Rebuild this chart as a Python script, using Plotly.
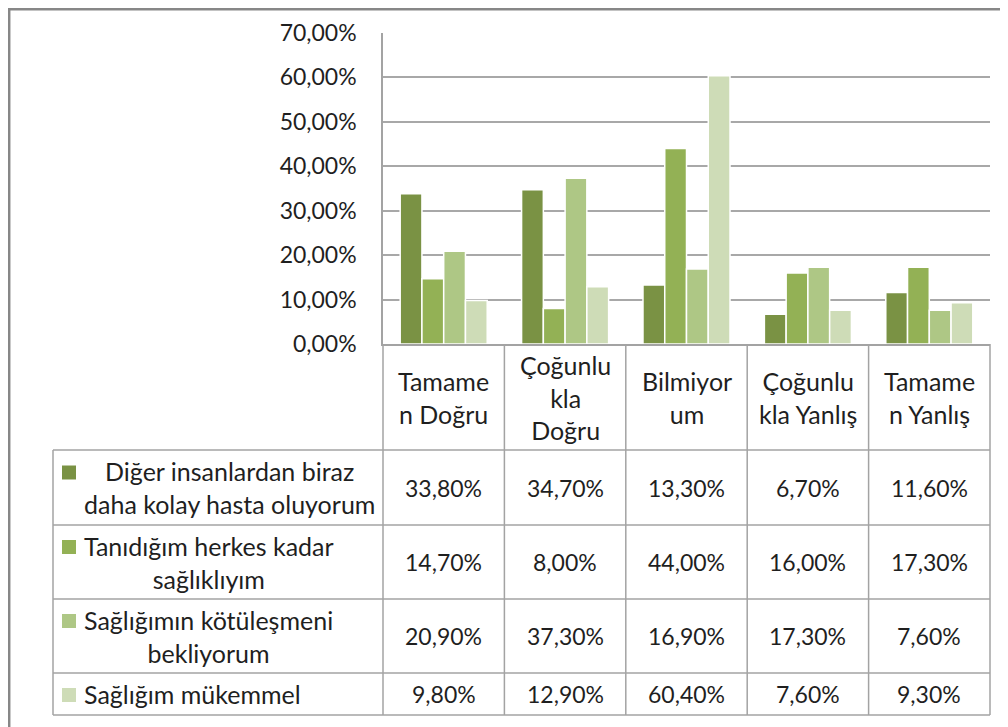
import plotly.graph_objects as go

# ---- data ----
categories = ["Tamamen Doğru", "Çoğunlukla Doğru", "Bilmiyorum", "Çoğunlukla Yanlış", "Tamamen Yanlış"]
category_labels = ["Tamame<br>n Doğru", "Çoğunlu<br>kla<br>Doğru", "Bilmiyor<br>um",
                   "Çoğunlu<br>kla Yanlış", "Tamame<br>n Yanlış"]
series_names = ["Diğer insanlardan biraz daha kolay hasta oluyorum",
                "Tanıdığım herkes kadar sağlıklıyım",
                "Sağlığımın kötüleşmeni bekliyorum",
                "Sağlığım mükemmel"]
series_labels = ["Diğer insanlardan biraz<br>daha kolay hasta oluyorum",
                 "Tanıdığım herkes kadar<br>sağlıklıyım",
                 "Sağlığımın kötüleşmeni<br>bekliyorum",
                 "Sağlığım mükemmel"]
s1 = [33.8, 34.7, 13.3, 6.7, 11.6]
s2 = [14.7, 8.0, 44.0, 16.0, 17.3]
s3 = [20.9, 37.3, 16.9, 17.3, 7.6]
s4 = [9.8, 12.9, 60.4, 7.6, 9.3]
series_values = [s1, s2, s3, s4]
colors = ["#7A9244", "#93B155", "#AEC785", "#CEDCB7"]
y_ticks = [0, 10, 20, 30, 40, 50, 60, 70]

# ---- layout constants (page pixels) ----
W, H = 1008, 727
OFF = 8                                       # page body margin around the figure
PL, PR, PT, PB = 383, 990, 33, 344            # plot area
ROWS = [344, 450, 525, 599, 673, 715]         # table row boundaries
TLEFT = 53
FONT = "Lato"
TXT = "#1f1f1f"
BORDER = "#a3a3a3"
NUM_SIZE = 23
LAB_SIZE = 25


def fx(x):
    return (x - OFF) / W


def fy(y):
    return 1 - (y - OFF) / H


fig = go.Figure()
for name, vals, col in zip(series_names, series_values, colors):
    fig.add_trace(go.Bar(x=categories, y=[v / 100 for v in vals], name=name,
                         marker=dict(color=col, line=dict(color="white", width=1.5)),
                         showlegend=False))

shapes = []
annotations = []
ncat = len(categories)
colw = (PR - PL) / ncat
for i in range(ncat + 1):
    x = PL + i * colw
    shapes.append(dict(type="line", xref="paper", yref="paper", x0=fx(x), x1=fx(x), y0=fy(ROWS[0]), y1=fy(ROWS[-1]),
                       line=dict(color=BORDER, width=1.5)))
shapes.append(dict(type="line", xref="paper", yref="paper", x0=fx(TLEFT), x1=fx(TLEFT), y0=fy(ROWS[1]), y1=fy(ROWS[-1]),
                   line=dict(color=BORDER, width=1.5)))
for r in ROWS[1:]:
    shapes.append(dict(type="line", xref="paper", yref="paper", x0=fx(TLEFT), x1=fx(PR), y0=fy(r), y1=fy(r),
                       line=dict(color=BORDER, width=1.5)))
for i, lab in enumerate(category_labels):
    cx = PL + (i + 0.5) * colw
    annotations.append(dict(xref="paper", yref="paper", x=fx(cx), y=fy((ROWS[0] + ROWS[1]) / 2), text=lab,
                            showarrow=False, xanchor="center", yanchor="middle", align="center",
                            font=dict(family=FONT, size=LAB_SIZE, color=TXT)))
for j, (lab, vals, col) in enumerate(zip(series_labels, series_values, colors)):
    top, bot = ROWS[j + 1], ROWS[j + 2]
    cy = (top + bot) / 2
    nlines = lab.count("<br>") + 1
    first_line_y = cy - (nlines - 1) * 16
    shapes.append(dict(type="rect", xref="paper", yref="paper", x0=fx(62), x1=fx(76),
                       y0=fy(first_line_y - 6), y1=fy(first_line_y + 8), fillcolor=col, line=dict(width=0)))
    annotations.append(dict(xref="paper", yref="paper", x=fx(82), y=fy(cy), text=lab, showarrow=False,
                            xanchor="left", yanchor="middle", align="center",
                            font=dict(family=FONT, size=LAB_SIZE, color=TXT)))
    for i, v in enumerate(vals):
        cx = PL + (i + 0.5) * colw
        annotations.append(dict(xref="paper", yref="paper", x=fx(cx), y=fy(cy),
                                text=f"{v:.2f}%".replace(".", ","), showarrow=False,
                                xanchor="center", yanchor="middle",
                                font=dict(family=FONT, size=NUM_SIZE, color=TXT)))
# outer frame (left and top edges visible)
shapes.append(dict(type="rect", xref="paper", yref="paper", x0=fx(OFF + 1.2), x1=fx(W + 40), y0=fy(OFF + 1.2),
                   y1=fy(H + 40), line=dict(color="#878787", width=2.5), fillcolor="rgba(0,0,0,0)"))

fig.update_layout(
    width=W, height=H, autosize=False,
    margin=dict(l=0, r=0, t=0, b=0, pad=0, autoexpand=False),
    paper_bgcolor="white", plot_bgcolor="white",
    separators=",.",
    barmode="group", bargap=0.283, bargroupgap=0.0,
    shapes=shapes, annotations=annotations,
    xaxis=dict(domain=[fx(PL), fx(PR)], showticklabels=False, ticks="", showgrid=False, automargin=False,
               showline=True, linecolor=BORDER, linewidth=1.5, zeroline=False),
    yaxis=dict(domain=[fy(PB), fy(PT)], range=[0, 0.7], tickvals=[t / 100 for t in y_ticks], tickformat=".2%",
               showgrid=True, gridcolor="#a8a8a8", gridwidth=1.5, zeroline=False, automargin=False,
               showline=True, linecolor=BORDER, linewidth=1.5, ticks="",
               ticklabelstandoff=20,
               tickfont=dict(family=FONT, size=NUM_SIZE, color=TXT)),
)

fig.write_html("out.html")
